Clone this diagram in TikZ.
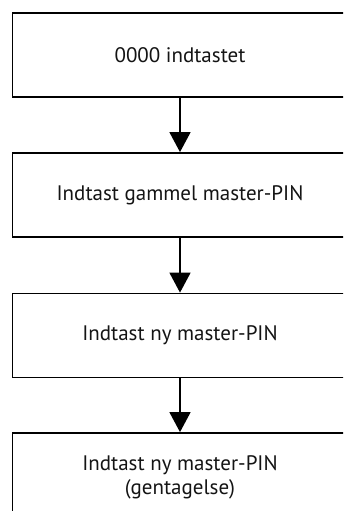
\documentclass[tikz,border=0pt]{standalone}
\usepackage{fontspec}
\setmainfont{PT Sans}
\usetikzlibrary{arrows.meta}
\begin{document}
\begin{tikzpicture}[x=1pt,y=-1pt,
  stepbox/.style={draw=black,line width=1.8pt,minimum width=335pt,minimum height=84pt,inner sep=0pt,align=center,font=\fontsize{21}{23.5}\selectfont,text=black!92},
  flow/.style={line width=1.6pt,-{Triangle[width=21pt,length=20pt]}}]
\clip (0,0) rectangle (343,511);
\useasboundingbox (0,0) rectangle (343,511);
\node[stepbox] (a) at (180,55) {0000 indtastet};
\node[stepbox] (b) at (180,195) {Indtast gammel master-PIN};
\node[stepbox] (c) at (180,335.5) {Indtast ny master-PIN};
\node[stepbox,text depth=0pt] (d) at (180,475) {Indtast ny master-PIN\\(gentagelse)};
\draw[flow] (a) -- (b);
\draw[flow] (b) -- (c);
\draw[flow] (c) -- (d);
\end{tikzpicture}
\end{document}
